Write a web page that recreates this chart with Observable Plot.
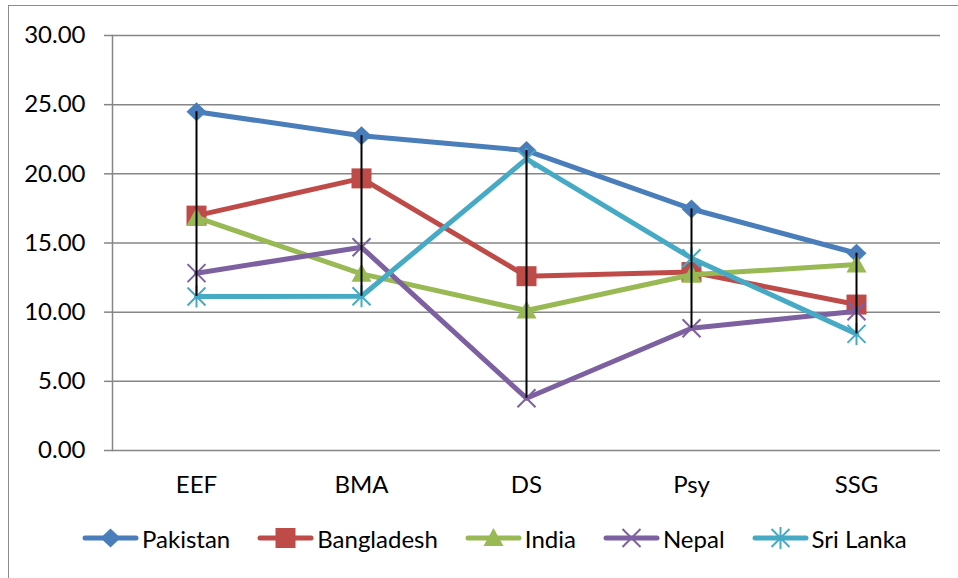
<!DOCTYPE html>
<html>
<head>
<meta charset="utf-8">
<script src="https://cdn.jsdelivr.net/npm/d3@7"></script>
<script src="https://cdn.jsdelivr.net/npm/@observablehq/plot@0.6"></script>
<style>
  html, body { margin: 0; padding: 0; background: #fff; }
  #wrap { position: relative; width: 958px; height: 578px; overflow: hidden; font-family: Lato, "Open Sans", sans-serif; }
  #border { position: absolute; left: 8px; top: 5px; width: 1000px; height: 1000px; border-left: 1.5px solid #8c8c8c; border-top: 1.5px solid #8c8c8c; pointer-events: none; }
  #chart { position: absolute; left: 0; top: 0; }
  #legend { position: absolute; left: 82px; top: 524px; display: flex; align-items: center; height: 28px; font-size: 24px; color: #000; }
  .item { display: flex; align-items: center; margin-right: 27px; }
  .item svg { margin-right: 3px; }
</style>
</head>
<body>
<div id="wrap">
  <div id="border"></div>
  <div id="chart"></div>
  <div id="legend"></div>
</div>
<script>
// ---- data ----
const categories = ["EEF", "BMA", "DS", "Psy", "SSG"];
const seriesNames = ["Pakistan", "Bangladesh", "India", "Nepal", "Sri Lanka"];
const pakistan   = [24.49, 22.76, 21.68, 17.46, 14.26];
const bangladesh = [16.98, 19.67, 12.60, 12.90, 10.55];
const india      = [16.85, 12.77, 10.12, 12.70, 13.44];
const nepal      = [12.82, 14.69, 3.78, 8.84, 10.07];
const sriLanka   = [11.13, 11.15, 21.08, 13.90, 8.43];
const yTicks = [0, 5, 10, 15, 20, 25, 30];

// ---- styles ----
const colors = ["#4a7ebb", "#be4b48", "#98b954", "#7d60a0", "#46aac5"];
const symDiamond = {draw(c) { c.moveTo(0, -9.5); c.lineTo(10, 0); c.lineTo(0, 9.5); c.lineTo(-10, 0); c.closePath(); }};
const symSquare  = {draw(c) { c.moveTo(-10, -10); c.lineTo(10, -10); c.lineTo(10, 10); c.lineTo(-10, 10); c.closePath(); }};
const symTri     = {draw(c) { c.moveTo(0, -10); c.lineTo(10, 8); c.lineTo(-10, 8); c.closePath(); }};
const symTimes   = {draw(c) { c.moveTo(-9, -9); c.lineTo(9, 9); c.moveTo(9, -9); c.lineTo(-9, 9); }};
const symStar    = {draw(c) { c.moveTo(-9, -9); c.lineTo(9, 9); c.moveTo(9, -9); c.lineTo(-9, 9); c.moveTo(0, -11); c.lineTo(0, 11); }};
const symbols = [symDiamond, symSquare, symTri, symTimes, symStar];
const filled = [true, true, true, false, false];

const allValues = [pakistan, bangladesh, india, nepal, sriLanka];
const series = seriesNames.map((name, i) => ({
  name, color: colors[i], symbol: symbols[i], filled: filled[i],
  data: categories.map((c, j) => ({cat: c, value: allValues[i][j], series: name}))
}));

const hilo = categories.map((c, j) => {
  const vals = allValues.map(a => a[j]);
  return {cat: c, lo: d3.min(vals), hi: d3.max(vals)};
});

const marks = [
  Plot.gridY(yTicks, {stroke: "#868686", strokeOpacity: 1, strokeWidth: 1.5}),
  Plot.frame({anchor: "left", stroke: "#868686", strokeWidth: 1.5}),
  Plot.axisY(yTicks, {tickSize: 8, tickPadding: 19, stroke: "#868686", strokeWidth: 1.5, fill: "#000", tickFormat: d => d.toFixed(2), fontSize: 24}),
  Plot.axisX({tickSize: 0, tickPadding: 25, fill: "#000", fontSize: 24})
];
for (const s of series) {
  marks.push(Plot.lineY(s.data, {x: "cat", y: "value", stroke: s.color, strokeWidth: 5}));
  marks.push(Plot.dot(s.data, s.filled
    ? {x: "cat", y: "value", symbol: () => s.symbol, fill: s.color, stroke: "none"}
    : {x: "cat", y: "value", symbol: () => s.symbol, fill: "none", stroke: s.color, strokeWidth: 2}));
}
marks.push(Plot.ruleX(hilo, {x: "cat", y1: "lo", y2: "hi", stroke: "#000", strokeWidth: 2}));

const chart = Plot.plot({
  width: 958,
  height: 505,
  marginLeft: 112,
  marginRight: 18,
  marginTop: 35,
  marginBottom: 55,
  style: {fontFamily: "Lato, 'Open Sans', sans-serif", fontSize: "24px", background: "transparent", overflow: "visible"},
  x: {type: "point", domain: categories, padding: 0.5, label: null, axis: null},
  y: {domain: [0, 30], label: null, axis: null},
  symbol: {type: "identity"},
  marks
});
document.getElementById("chart").appendChild(chart);

// ---- legend ----
const legend = d3.select("#legend");
series.forEach(s => {
  const item = legend.append("div").attr("class", "item");
  const svg = item.append("svg").attr("width", 57).attr("height", 26);
  svg.append("line").attr("x1", 3).attr("x2", 54).attr("y1", 13).attr("y2", 13)
    .attr("stroke", s.color).attr("stroke-width", 5).attr("stroke-linecap", "round");
  const p = d3.path();
  s.symbol.draw(p);
  svg.append("path").attr("transform", "translate(28.5,13)").attr("d", p.toString())
    .attr("fill", s.filled ? s.color : "none")
    .attr("stroke", s.filled ? "none" : s.color).attr("stroke-width", 2);
  item.append("span").text(s.name);
});
</script>
</body>
</html>
